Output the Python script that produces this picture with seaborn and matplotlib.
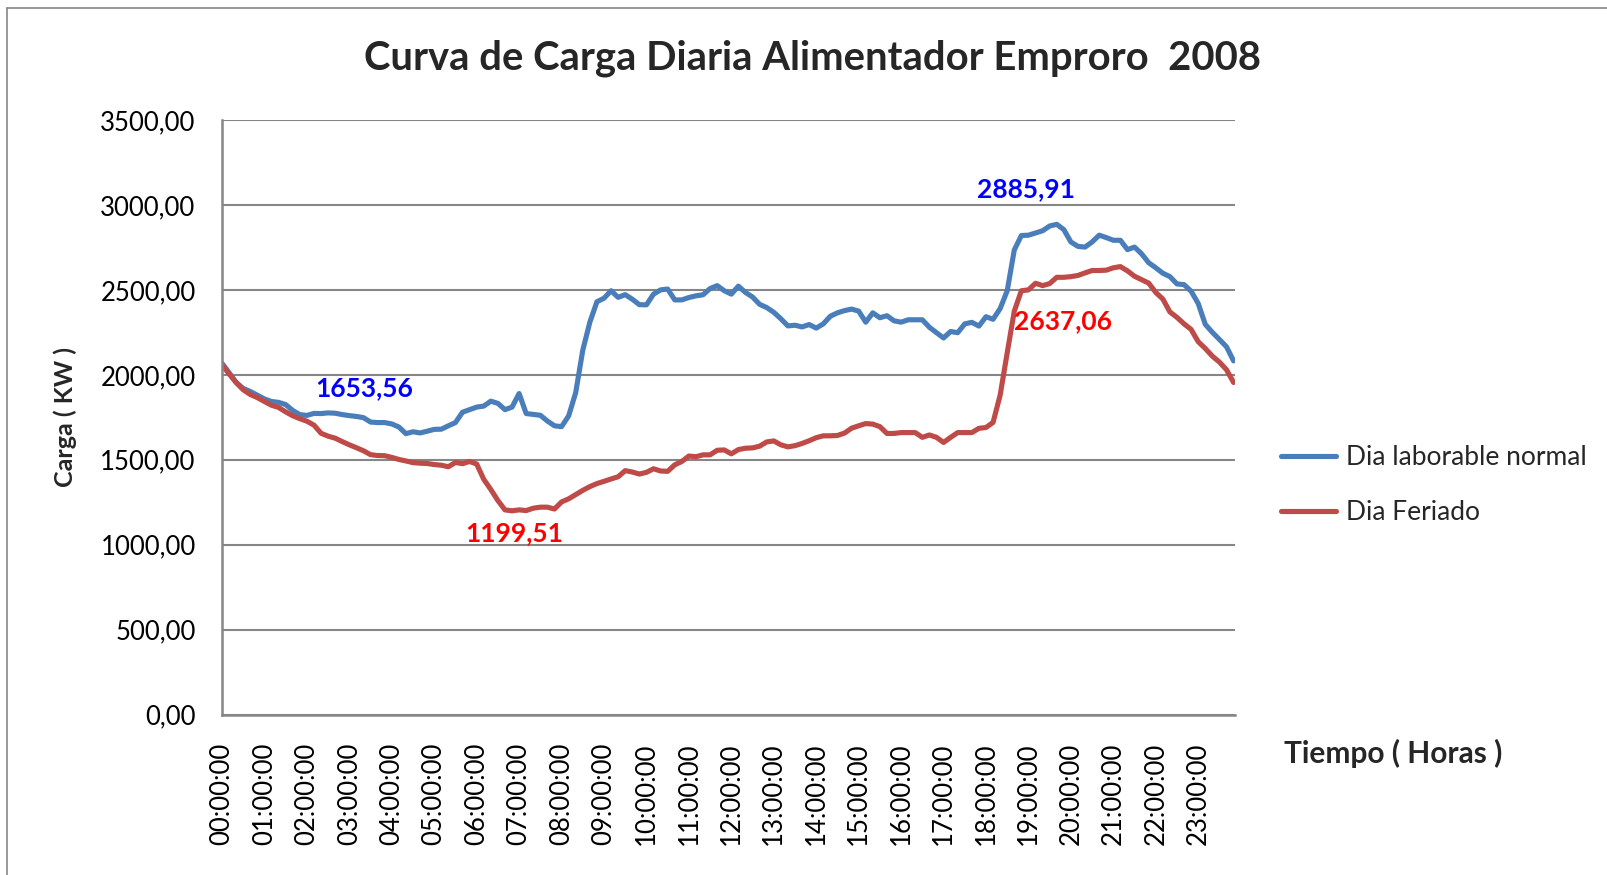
import numpy as np
import pandas as pd
import seaborn as sns
import matplotlib.pyplot as plt
from matplotlib.ticker import FuncFormatter

# Datos (cada 10 minutos, 00:00 - 23:50)
hours = [f"{h:02d}:00:00" for h in range(24)]

laborable = [
    2068, 2013, 1955, 1920, 1902, 1880, 1858, 1843, 1838, 1825,
    1790, 1766, 1761, 1773, 1772, 1776, 1774, 1766, 1760, 1755,
    1748, 1722, 1719, 1719, 1711, 1693, 1653.56, 1665, 1658, 1668,
    1679, 1680, 1700, 1719, 1780, 1795, 1810, 1816, 1845, 1832,
    1795, 1810, 1890, 1772, 1767, 1762, 1728, 1700, 1695, 1758,
    1895, 2145, 2310, 2430, 2451, 2495, 2456, 2472, 2445, 2413,
    2412, 2475, 2500, 2505, 2441, 2441, 2455, 2465, 2471, 2508,
    2525, 2495, 2475, 2522, 2485, 2458, 2415, 2396, 2368, 2330,
    2288, 2292, 2282, 2296, 2275, 2300, 2345, 2365, 2378, 2387,
    2375, 2310, 2365, 2336, 2348, 2318, 2310, 2324, 2324, 2324,
    2280, 2248, 2217, 2255, 2248, 2300, 2309, 2287, 2342, 2327,
    2390, 2495, 2735, 2820, 2822, 2835, 2848, 2876, 2885.91, 2855,
    2782, 2756, 2752, 2782, 2822, 2808, 2792, 2792, 2737, 2752,
    2712, 2660, 2630, 2598, 2578, 2535, 2531, 2492, 2420, 2297,
    2250, 2208, 2165, 2082,
]

feriado = [
    2060, 2005, 1955, 1912, 1884, 1866, 1843, 1821, 1808, 1782,
    1759, 1742, 1727, 1704, 1656, 1639, 1627, 1607, 1588, 1571,
    1553, 1530, 1525, 1524, 1514, 1502, 1493, 1483, 1480, 1478,
    1472, 1468, 1459, 1484, 1477, 1490, 1475, 1385, 1325, 1260,
    1205, 1199.51, 1205, 1201, 1215, 1221, 1221, 1210, 1252, 1270,
    1295, 1320, 1342, 1360, 1373, 1387, 1400, 1436, 1428, 1416,
    1426, 1447, 1434, 1432, 1470, 1490, 1522, 1518, 1529, 1529,
    1556, 1558, 1535, 1560, 1568, 1570, 1580, 1605, 1611, 1588,
    1576, 1583, 1596, 1612, 1630, 1641, 1641, 1643, 1657, 1686,
    1700, 1713, 1710, 1695, 1655, 1655, 1660, 1660, 1660, 1632,
    1646, 1632, 1602, 1632, 1660, 1660, 1660, 1685, 1690, 1720,
    1880, 2130, 2375, 2495, 2500, 2539, 2525, 2537, 2574, 2574,
    2578, 2585, 2600, 2614, 2614, 2616, 2630, 2637.06, 2612, 2580,
    2560, 2540, 2485, 2446, 2370, 2338, 2300, 2267, 2195, 2155,
    2110, 2075, 2030, 1955,
]

series = ["Dia laborable normal", "Dia Feriado"]
colors = {"Dia laborable normal": "#4A7EBB", "Dia Feriado": "#BE4B48"}

idx = np.arange(len(laborable))
df = pd.concat([
    pd.DataFrame({"t": idx, "carga": laborable, "serie": series[0]}),
    pd.DataFrame({"t": idx, "carga": feriado, "serie": series[1]}),
])

sns.set_style("white")
plt.rcParams["font.family"] = ["Lato", "DejaVu Sans"]

W, H = 1607, 875
fig = plt.figure(figsize=(W / 100, H / 100), dpi=100)
ax = fig.add_axes([222 / W, 1 - 714.6 / H, (1235 - 222) / W, (714.6 - 120) / H])

sns.lineplot(data=df, x="t", y="carga", hue="serie", palette=colors,
             linewidth=3.7, ax=ax, legend=True)

ax.set_ylim(0, 3500)
ax.set_xlim(0, len(idx) - 0.8)
ax.set_yticks(np.arange(0, 3501, 500))
ax.yaxis.set_major_formatter(FuncFormatter(lambda v, p: f"{v:.2f}".replace(".", ",")))
ax.set_xticks(np.arange(0, len(idx), 6))
ax.set_xticklabels(hours, rotation=90, va="top", ha="center")
ax.tick_params(axis="both", length=0, labelsize=18.5, colors="black")
ax.tick_params(axis="x", pad=20)
ax.tick_params(axis="y", pad=19)

ax.grid(axis="y", color="#868686", linewidth=1.5)
ax.set_axisbelow(True)
for s in ["top", "right"]:
    ax.spines[s].set_visible(False)
for s in ["left", "bottom"]:
    ax.spines[s].set_color("#868686")
    ax.spines[s].set_linewidth(1.8)

ax.set_ylabel("Carga ( KW )", fontsize=18, fontweight="bold")
ax.yaxis.set_label_coords(-0.143, 0.5)
ax.set_xlabel("Tiempo ( Horas )", fontsize=21.5, fontweight="bold", va="center")
ax.xaxis.set_label_coords(1.156, -0.066)

fig.text(812 / W, 1 - 58 / H, "Curva de Carga Diaria Alimentador Emproro  2008",
         fontsize=28.8, fontweight="bold", ha="center", va="center")

# etiquetas de maximos y minimos
lab = np.array(laborable)
fer = np.array(feriado)
marks = [
    (lab, lab.argmin(), (-42, 46), "#0000FF"),
    (lab, lab.argmax(), (-31, 35), "#0000FF"),
    (fer, fer.argmin(), (2, -22), "#FF0000"),
    (fer, fer.argmax(), (-57, -55), "#FF0000"),
]
for arr, i, off, c in marks:
    ax.annotate(f"{arr[i]:.2f}".replace(".", ","), (i, arr[i]), xytext=off,
                textcoords="offset pixels", ha="center", va="center",
                fontsize=19, fontweight="bold", color=c)

ax.legend(loc="center left", bbox_to_anchor=(1281 / W, 1 - 485 / H),
          bbox_transform=fig.transFigure, frameon=False, fontsize=19,
          handlelength=2.1, handletextpad=0.35, labelspacing=1.15,
          borderpad=0, borderaxespad=0, title=None)

# borde del area del grafico
fig.add_artist(plt.Line2D([7 / W, 7 / W], [0, 1 - 8 / H], color="#868686",
                          linewidth=1.2, transform=fig.transFigure))
fig.add_artist(plt.Line2D([7 / W, 1], [1 - 8 / H, 1 - 8 / H], color="#868686",
                          linewidth=1.2, transform=fig.transFigure))

fig.savefig("out.png", dpi=100)
